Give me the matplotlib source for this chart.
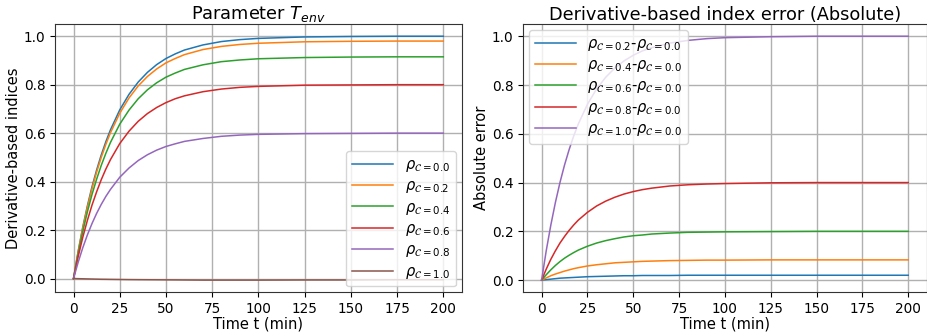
import numpy as np
import matplotlib.pyplot as plt

# time points (min)
timeMin = [0, 2.5, 5, 7.5, 10, 12.5, 15, 17.5, 20, 25, 30, 35, 40, 45, 50, 55, 60, 70, 80, 90, 100, 125, 150, 175, 200]

# left panel: derivative-based indices for parameter T_env
rho00 = [0, .112, .212, .300, .379, .448, .510, .565, .614, .696, .760, .811, .851, .883, .908, .927, .943, .964, .978, .986, .991, .997, .999, 1.0, 1.0]
rho02 = [0, .110, .208, .294, .371, .439, .500, .554, .602, .682, .745, .795, .834, .865, .890, .908, .924, .945, .958, .966, .971, .977, .979, .980, .980]
rho04 = [0, .102, .194, .275, .347, .410, .467, .517, .562, .637, .695, .742, .779, .808, .831, .848, .863, .882, .895, .902, .907, .912, .914, .915, .915]
rho06 = [0, .090, .170, .240, .303, .358, .408, .452, .491, .557, .608, .649, .681, .706, .726, .742, .754, .771, .782, .789, .793, .798, .799, .800, .800]
rho08 = [0, .067, .127, .180, .227, .269, .306, .339, .368, .418, .456, .487, .511, .530, .545, .556, .566, .578, .587, .592, .595, .598, .599, .600, .600]
rho10 = [0, -.0005, -.001, -.0015, -.002, -.0025, -.003, -.0032, -.0035, -.004, -.0045, -.0048, -.005, -.0052, -.0055, -.0057, -.006, -.0065, -.0065, -.0065, -.0065, -.006, -.006, -.005, -.005]
leftLabels = ['0.0', '0.2', '0.4', '0.6', '0.8', '1.0']

# right panel: absolute error vs rho_C = 0.0
err02 = [0, .002, .004, .006, .008, .009, .010, .011, .012, .014, .015, .016, .017, .018, .018, .019, .019, .019, .020, .020, .020, .020, .020, .020, .020]
err04 = [0, .009, .018, .025, .031, .037, .042, .047, .051, .058, .063, .067, .071, .073, .075, .077, .078, .080, .081, .082, .082, .083, .083, .083, .083]
err06 = [0, .022, .042, .060, .076, .090, .102, .113, .123, .139, .152, .162, .170, .177, .182, .185, .189, .193, .196, .197, .198, .199, .200, .200, .200]
err08 = [0, .045, .085, .120, .152, .179, .204, .226, .246, .278, .304, .324, .340, .353, .363, .371, .377, .386, .391, .394, .396, .399, .400, .400, .400]
err10 = [0, .120, .225, .318, .400, .472, .535, .591, .640, .721, .784, .832, .870, .899, .922, .940, .953, .972, .983, .990, .994, .998, 1.0, 1.0, 1.0]
rightLabels = ['0.2', '0.4', '0.6', '0.8', '1.0']

fig = plt.figure(figsize=(9.28, 3.36), dpi=100)
axLeft = fig.add_axes([0.0593, 0.130, 0.4383, 0.7985])
axRight = fig.add_axes([0.5639, 0.130, 0.4345, 0.7985])

for values, rho in zip([rho00, rho02, rho04, rho06, rho08, rho10], leftLabels):
    axLeft.plot(timeMin, values, linewidth=1.1, label=r'$\rho_{\mathcal{C}=' + rho + '}$')

for values, rho in zip([err02, err04, err06, err08, err10], rightLabels):
    axRight.plot(timeMin, values, linewidth=1.1,
                 label=r'$\rho_{\mathcal{C}=' + rho + r'}$-$\rho_{\mathcal{C}=0.0}$')

axLeft.set_title(r'Parameter $T_{env}$', fontsize=12.8, pad=3)
axLeft.set_ylabel('Derivative-based indices', fontsize=10.5, labelpad=2)
axLeft.legend(loc='lower right', fontsize=10.5, handlelength=2.8, labelspacing=0.3, borderaxespad=0.4)

axRight.set_title('Derivative-based index error (Absolute)', fontsize=12.8, pad=3)
axRight.set_ylabel('Absolute error', fontsize=10.5, labelpad=2)
axRight.legend(loc='upper left', fontsize=10.5, handlelength=2.8, labelspacing=0.3, borderaxespad=0.4)

for ax in [axLeft, axRight]:
    ax.set_xlabel('Time t (min)', fontsize=10.5, labelpad=0)
    ax.set_xticks(np.arange(0, 201, 25))
    ax.set_yticks(np.arange(0, 1.01, 0.2))
    ax.tick_params(labelsize=9.8)
    ax.grid(True, color='#b0b0b0', linewidth=1)
    for spine in ax.spines.values():
        spine.set_color('#333333')

fig.savefig('out.png', dpi=100)
